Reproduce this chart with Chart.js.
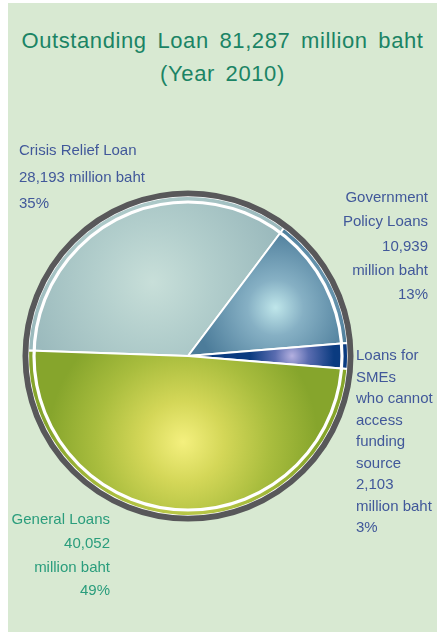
<!DOCTYPE html>
<html>
<head>
<meta charset="utf-8">
<title>Outstanding Loan 2010</title>
<script src="https://cdn.jsdelivr.net/npm/chart.js@4.4.1/dist/chart.umd.min.js"></script>
<style>
  html, body { margin: 0; padding: 0; background: #fff; }
  body { width: 437px; height: 632px; position: relative; overflow: hidden;
         font-family: 'Liberation Sans', Arial, sans-serif; }
  #panel { position: absolute; left: 8px; top: 3px; right: 0; bottom: 0; background: #d8e9d2; }
  #title { position: absolute; left: 8px; right: 0; top: 24px; text-align: center;
           color: #1b8465; font-size: 22px; line-height: 33px; letter-spacing: 0.6px; word-spacing: 4px; }
  #pie { position: absolute; left: 18px; top: 186px; width: 340px; height: 340px; }
  .lbl { position: absolute; font-size: 15px; }
  .lbl div { white-space: nowrap; }
</style>
</head>
<body>
<div id="panel"></div>
<div id="title">Outstanding Loan 81,287 million baht<br>(Year 2010)</div>
<canvas id="pie" width="340" height="340"></canvas>
<div id="labels"></div>
<script>
// loan portfolio, million baht
const categories = [
  ['Crisis Relief Loan'],
  ['Government', 'Policy Loans'],
  ['Loans for', 'SMEs', 'who cannot', 'access', 'funding', 'source'],
  ['General Loans'],
]
const amounts = [28193, 10939, 2103, 40052]
const unit = 'million baht'

// slice shading: gradient stops from the glow spot outwards
const sliceStops = [
  [[0, '#c8dfd9'], [0.45, '#b2cecc'], [1, '#9bbabd']],
  [[0, '#bfe6ea'], [0.35, '#86b0c4'], [1, '#4c7c9a']],
  [[0, '#b4b0e0'], [0.4, '#5a6cb0'], [1, '#0a3b80']],
  [[0, '#f4f07e'], [0.3, '#d4d758'], [0.65, '#a9bd3e'], [1, '#86a52c']],
]
const edgeColors = ['#9bbabd', '#4c7c9a', '#0a3b80', '#86a52c']
const glowDist = [82, 100, 104, 86]
const glowReach = [130, 80, 42, 135]

const ROTATION = -88
const total = amounts.reduce((a, b) => a + b, 0)

function sliceFill(ctx) {
  const i = ctx.dataIndex
  const area = ctx.chart.chartArea
  if (!area) return edgeColors[i]
  const cx = (area.left + area.right) / 2
  const cy = (area.top + area.bottom) / 2
  let start = ROTATION
  for (let k = 0; k < i; k++) start += (amounts[k] / total) * 360
  const mid = ((start + (amounts[i] / total) * 180) * Math.PI) / 180
  const hx = cx + Math.sin(mid) * glowDist[i]
  const hy = cy - Math.cos(mid) * glowDist[i]
  const g = ctx.chart.ctx.createRadialGradient(hx, hy, 0, hx, hy, glowReach[i])
  sliceStops[i].forEach(([at, col]) => g.addColorStop(at, col))
  return g
}

// white inner circle and dark outer rim
const rimPlugin = {
  id: 'rim',
  afterDatasetsDraw(chart) {
    const arc = chart.getDatasetMeta(0).data[0]
    if (!arc) return
    const { x, y, outerRadius } = arc.getProps(['x', 'y', 'outerRadius'], true)
    const c = chart.ctx
    c.save()
    c.beginPath()
    c.arc(x, y, outerRadius - 6, 0, Math.PI * 2)
    c.strokeStyle = '#ffffff'
    c.lineWidth = 3.2
    c.stroke()
    c.beginPath()
    c.arc(x, y, outerRadius + 2.6, 0, Math.PI * 2)
    c.strokeStyle = '#58585a'
    c.lineWidth = 5.8
    c.stroke()
    c.restore()
  },
}

new Chart(document.getElementById('pie'), {
  type: 'pie',
  data: {
    labels: categories,
    datasets: [
      {
        data: amounts,
        backgroundColor: sliceFill,
        borderColor: '#ffffff',
        borderWidth: 2,
        radius: 160,
      },
    ],
  },
  options: {
    responsive: false,
    animation: false,
    rotation: ROTATION,
    layout: { padding: 0 },
    plugins: {
      legend: { display: false },
      tooltip: { enabled: false },
    },
  },
  plugins: [rimPlugin],
})

// text blocks beside the pie
const labelSpots = [
  { left: 19, top: 137, align: 'left', lh: 26.5, color: '#41589a', splitUnit: false },
  { right: 9, top: 185, align: 'right', lh: 24.3, color: '#41589a', splitUnit: true },
  { left: 356, top: 344, align: 'left', lh: 21.5, color: '#41589a', splitUnit: true },
  { right: 327, top: 507, align: 'right', lh: 23.8, color: '#2a9d7c', splitUnit: true },
]

const holder = document.getElementById('labels')
categories.forEach((name, i) => {
  const spot = labelSpots[i]
  const pct = Math.round((amounts[i] / total) * 100) + '%'
  const value = amounts[i].toLocaleString('en-US')
  const lines = [...name]
  if (spot.splitUnit) lines.push(value, unit)
  else lines.push(value + ' ' + unit)
  lines.push(pct)
  const box = document.createElement('div')
  box.className = 'lbl'
  box.style.top = spot.top + 'px'
  if (spot.left !== undefined) box.style.left = spot.left + 'px'
  else box.style.right = spot.right + 'px'
  box.style.textAlign = spot.align
  box.style.lineHeight = spot.lh + 'px'
  box.style.color = spot.color
  lines.forEach((t) => {
    const row = document.createElement('div')
    row.textContent = t
    box.appendChild(row)
  })
  holder.appendChild(box)
})
</script>
</body>
</html>
